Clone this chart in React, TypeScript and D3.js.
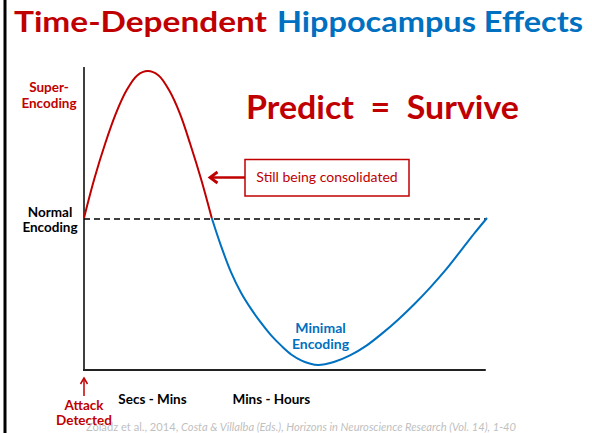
import React from "react";
import * as d3 from "d3";

// Time (arbitrary units 0-100) and encoding strength (normal = 0, super = 1, minimal = -1)
const redTime = [0, 2.6, 5.3, 7.9, 10.6, 13.2, 15.8, 18.5, 21.1, 23.8, 26.4, 29.1, 31.7];
const redEnc = [0, 0.27, 0.51, 0.71, 0.87, 0.97, 1.0, 0.97, 0.87, 0.71, 0.5, 0.26, 0];
const blueTime = [31.7, 34, 36.5, 39, 41.5, 44, 46.5, 49, 51.5, 54, 56, 58.1, 62, 66, 70, 74, 78, 82, 86, 90, 94, 97, 100];
const blueEnc = [0, -0.19, -0.37, -0.51, -0.62, -0.715, -0.8, -0.87, -0.93, -0.97, -0.99, -1.0, -0.98, -0.935, -0.87, -0.785, -0.69, -0.585, -0.47, -0.345, -0.205, -0.1, 0];
const phaseLabels = ["Secs - Mins", "Mins - Hours"];
const phaseTime = [17, 46.5];

const RED = "#C00000";
const BLUE = "#0070C0";
const FONT = "Lato, 'Open Sans', sans-serif";

export default function App() {
  const W = 592, H = 433;
  const x = d3.scaleLinear().domain([0, 100]).range([84, 487]);
  const y = d3.scaleLinear().domain([-1, 1]).range([365, 71]);
  const plotTop = 67, plotBottom = 370;

  const mk = (ts: number[], es: number[]) =>
    d3
      .line<[number, number]>()
      .x((d) => x(d[0]))
      .y((d) => y(d[1]))
      .curve(d3.curveCatmullRom.alpha(0.5))(ts.map((t, i) => [t, es[i]] as [number, number])) || "";

  const redPath = mk(redTime, redEnc);
  const bluePath = mk(blueTime, blueEnc);

  return (
    <svg width={W} height={H} style={{ position: "absolute", left: 0, top: 0, background: "#fff" }} fontFamily={FONT}>
      <rect x={0} y={0} width={W} height={H} fill="#fff" />
      {/* left slide border */}
      <line x1={5} y1={0} x2={5} y2={H} stroke="#000" strokeWidth={3} />

      {/* title */}
      <text x={14} y={32} fontSize={29} fontWeight={700} fill={RED} textLength={253} lengthAdjust="spacingAndGlyphs">
        Time-Dependent
      </text>
      <text x={277} y={32} fontSize={29} fontWeight={700} fill={BLUE} textLength={306} lengthAdjust="spacingAndGlyphs">
        Hippocampus Effects
      </text>

      {/* axes */}
      <line x1={x(0)} y1={plotTop} x2={x(0)} y2={plotBottom} stroke="#000" strokeWidth={1.5} />
      <line x1={x(0) - 1} y1={plotBottom} x2={x(99.7)} y2={plotBottom} stroke="#222" strokeWidth={2} />

      {/* normal encoding baseline */}
      <line x1={x(0)} y1={y(0) + 1} x2={x(100)} y2={y(0) + 1} stroke="#000" strokeWidth={1.3} strokeDasharray="6,4" />

      {/* curves */}
      <path d={bluePath} fill="none" stroke={BLUE} strokeWidth={2} />
      <path d={redPath} fill="none" stroke={RED} strokeWidth={2} />

      {/* y labels */}
      <g fontWeight={700} fontSize={13.5} textAnchor="middle">
        <text x={49} y={92} fill={RED}>Super-</text>
        <text x={49} y={107.5} fill={RED}>Encoding</text>
        <text x={50} y={216.5} fill="#000">Normal</text>
        <text x={50} y={232} fill="#000">Encoding</text>
      </g>

      {/* Predict = Survive */}
      <text x={246} y={119} fontSize={33} fontWeight={700} fill={RED} textLength={273} lengthAdjust="spacingAndGlyphs" style={{ whiteSpace: "pre" }}>
        {"Predict  =  Survive"}
      </text>

      {/* annotation box */}
      <rect x={245} y={159.5} width={164} height={36.5} fill="#fff" stroke={RED} strokeWidth={1.5} />
      <text x={327} y={182} fontSize={14} fill={RED} textAnchor="middle">Still being consolidated</text>
      <line x1={245} y1={177.5} x2={210} y2={177.5} stroke={RED} strokeWidth={2.5} />
      <path d="M217.5,172 L210,177.5 L217.5,183" fill="none" stroke={RED} strokeWidth={2.8} strokeLinejoin="miter" />

      {/* minimal encoding */}
      <g fontWeight={700} fontSize={14} textAnchor="middle" fill={BLUE}>
        <text x={320.5} y={333}>Minimal</text>
        <text x={320.5} y={349}>Encoding</text>
      </g>

      {/* attack detected */}
      <line x1={x(0)} y1={396} x2={x(0)} y2={380} stroke={RED} strokeWidth={1.5} />
      <path d={`M${x(0) - 3.5},${384} L${x(0)},${378} L${x(0) + 3.5},${384}`} fill="none" stroke={RED} strokeWidth={1.5} />
      <g fontWeight={700} fontSize={13.5} textAnchor="middle" fill={RED}>
        <text x={x(0)} y={410}>Attack</text>
        <text x={x(0)} y={425}>Detected</text>
      </g>

      {/* phase labels */}
      <g fontWeight={700} fontSize={13.5} textAnchor="middle" fill="#000">
        {phaseLabels.map((l, i) => (
          <text key={l} x={x(phaseTime[i])} y={404}>{l}</text>
        ))}
      </g>

      {/* citation */}
      <text x={86} y={431} fontSize={11} fill="#BFBFBF" textLength={430} lengthAdjust="spacingAndGlyphs">
        <tspan>Zoladz et al., 2014, </tspan>
        <tspan fontStyle="italic">Costa &amp; Villalba (Eds.), Horizons in Neuroscience Research (Vol. 14), 1-40</tspan>
      </text>
    </svg>
  );
}
